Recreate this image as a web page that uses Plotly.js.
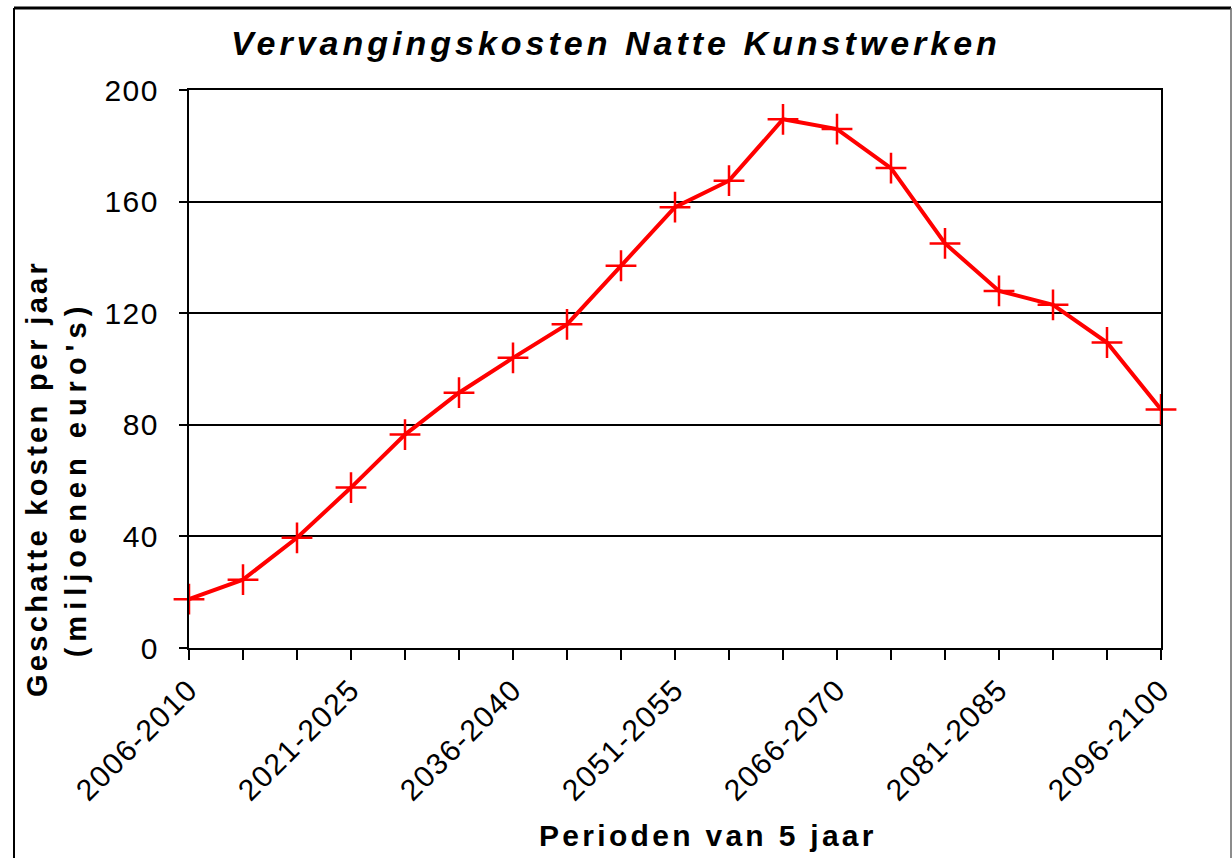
<!DOCTYPE html>
<html>
<head>
<meta charset="utf-8">
<script src="https://cdn.plot.ly/plotly-3.0.1.min.js"></script>
<style>
  html, body { margin: 0; padding: 0; background: #ffffff; }
  #chart { width: 1232px; height: 858px; }
  .gtitle { letter-spacing: 4px; }
  .xtick text, .ytick text { letter-spacing: 1.5px; }
  .annotation-text { letter-spacing: 3.3px; }
  .annotation[data-index="1"] .annotation-text { letter-spacing: 6px; }
</style>
</head>
<body>
<div id="chart"></div>
<script>
const periods = [
  "2006-2010", "2011-2015", "2016-2020", "2021-2025", "2026-2030",
  "2031-2035", "2036-2040", "2041-2045", "2046-2050", "2051-2055",
  "2056-2060", "2061-2065", "2066-2070", "2071-2075", "2076-2080",
  "2081-2085", "2086-2090", "2091-2095", "2096-2100"
];
const costs = [17.5, 24.5, 39.5, 57.5, 76.5, 91.5, 104, 116, 137, 158,
               167.5, 189.5, 186, 172, 145, 128, 123, 109.5, 85.5];
const yTicks = [0, 40, 80, 120, 160, 200];
const labelEvery = 3;
const tickLabels = periods.map((p, i) => (i % labelEvery === 0 ? p : ""));

const chartTitle = "Vervangingskosten Natte Kunstwerken";
const xTitle = "Perioden van 5 jaar";
const yTitle1 = "Geschatte kosten per jaar";
const yTitle2 = "(miljoenen euro's)";

const FONT = "Liberation Sans, Arial, sans-serif";
const L = 189, R = 1161, T = 90, B = 648;
const W = R - L, H = B - T;
const px = (x) => (x - L) / W;
const py = (y) => (B - y) / H;

const trace = {
  type: "scatter",
  mode: "lines+markers",
  x: periods,
  y: costs,
  cliponaxis: false,
  line: { color: "#ff0000", width: 4 },
  marker: { symbol: "cross-thin", size: 22, color: "#ff0000", line: { color: "#ff0000", width: 2.5 } },
  hoverinfo: "x+y"
};

const layout = {
  width: 1232,
  height: 858,
  margin: { l: L, r: 1232 - R, t: T, b: 858 - B, pad: 0 },
  paper_bgcolor: "#ffffff",
  plot_bgcolor: "#ffffff",
  showlegend: false,
  font: { family: FONT, color: "#000000" },
  title: {
    text: chartTitle,
    x: 0.5, xref: "container", xanchor: "center",
    y: 1 - 43 / 858, yref: "container", yanchor: "middle",
    font: { family: FONT, size: 34, weight: "bold", style: "italic", color: "#000000" }
  },
  xaxis: {
    type: "category",
    range: [0, periods.length - 1],
    tickmode: "array",
    tickvals: periods,
    ticktext: tickLabels,
    tickangle: -45,
    ticks: "outside",
    ticklen: 10,
    tickwidth: 2,
    tickcolor: "#000000",
    tickfont: { family: FONT, size: 30, color: "#000000" },
    showline: true,
    linecolor: "#000000",
    linewidth: 2,
    mirror: true,
    showgrid: false,
    zeroline: false,
    automargin: false
  },
  yaxis: {
    range: [0, 200],
    tickmode: "array",
    tickvals: yTicks,
    ticks: "outside",
    ticklen: 8,
    tickwidth: 2,
    tickcolor: "#000000",
    tickfont: { family: FONT, size: 30, color: "#000000" },
    ticklabelstandoff: 14,
    showline: true,
    linecolor: "#000000",
    linewidth: 2,
    mirror: true,
    showgrid: true,
    gridcolor: "#000000",
    gridwidth: 2,
    zeroline: false,
    automargin: false
  },
  annotations: [
    {
      text: yTitle1, textangle: -90, showarrow: false,
      xref: "paper", yref: "paper", x: px(37), y: py(479),
      xanchor: "center", yanchor: "middle",
      font: { family: FONT, size: 29, weight: "bold", color: "#000000" }
    },
    {
      text: yTitle2, textangle: -90, showarrow: false,
      xref: "paper", yref: "paper", x: px(76), y: py(479),
      xanchor: "center", yanchor: "middle",
      font: { family: FONT, size: 29, weight: "bold", color: "#000000" }
    },
    {
      text: xTitle, showarrow: false,
      xref: "paper", yref: "paper", x: px(708), y: py(835),
      xanchor: "center", yanchor: "middle",
      font: { family: FONT, size: 30, weight: "bold", color: "#000000" }
    }
  ],
  shapes: [
    { type: "line", xref: "paper", yref: "paper", x0: px(14), x1: px(1231), y0: py(8), y1: py(8),
      line: { color: "#000000", width: 3 } },
    { type: "line", xref: "paper", yref: "paper", x0: px(14), x1: px(14), y0: py(8), y1: py(870),
      line: { color: "#000000", width: 2 } },
    { type: "line", xref: "paper", yref: "paper", x0: px(1231), x1: px(1231), y0: py(8), y1: py(870),
      line: { color: "#666666", width: 1.5 } }
  ]
};

Plotly.newPlot("chart", [trace], layout, { displayModeBar: false, staticPlot: true });
</script>
</body>
</html>
